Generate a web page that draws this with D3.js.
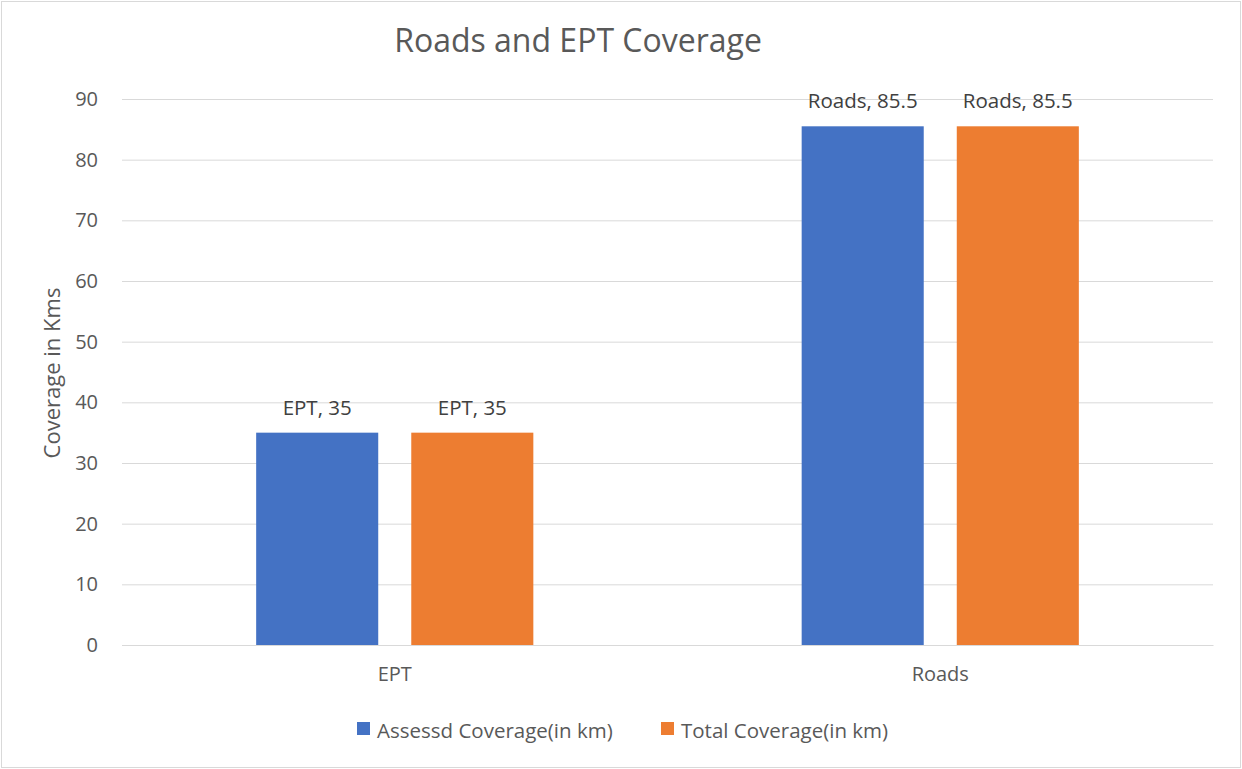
<!DOCTYPE html>
<html>
<head>
<meta charset="utf-8">
<script src="https://cdn.jsdelivr.net/npm/d3@7"></script>
<style>
  body { margin: 0; background: #fff; }
  svg { display: block; font-family: "Open Sans", "Noto Sans", sans-serif; }
</style>
</head>
<body>
<svg id="chart"></svg>
<script>
const categories = ["EPT", "Roads"];
const seriesNames = ["Assessd Coverage(in km)", "Total Coverage(in km)"];
const assessed = [35, 85.5];
const total = [35, 85.5];
const yTicks = [0, 10, 20, 30, 40, 50, 60, 70, 80, 90];
const colors = ["#4472c4", "#ed7d31"];

const width = 1242;
const height = 769;
const plotLeft = 122, plotRight = 1213, plotTop = 99, plotBottom = 645;
const font = '"Open Sans", "Noto Sans", sans-serif';

let svg = d3.select("#chart")
    .attr("width", width)
    .attr("height", height);

// рамка
svg.append("rect")
    .attr("x", 1.5).attr("y", 1.5)
    .attr("width", width - 3).attr("height", height - 3)
    .attr("fill", "#fff")
    .attr("stroke", "#d9d9d9");

let scaleX = d3.scaleBand()
    .domain(categories)
    .range([plotLeft, plotRight]);

let scaleY = d3.scaleLinear()
    .domain([0, 90])
    .range([plotBottom, plotTop]);

let inner = d3.scaleBand()
    .domain(seriesNames)
    .range([0, scaleX.bandwidth()])
    .paddingInner(0.213)
    .paddingOuter(0.865);

// сетка и ось Y
let axisY = d3.axisLeft(scaleY)
    .tickValues(yTicks)
    .tickSize(-(plotRight - plotLeft))
    .tickPadding(24);

let gy = svg.append("g")
    .attr("transform", `translate(${plotLeft}, 0)`)
    .call(axisY)
    .attr("font-family", font);
gy.select(".domain").remove();
gy.selectAll("line").attr("stroke", "#d9d9d9");
gy.selectAll("text")
    .attr("fill", "#595959")
    .style("font-size", "20px");

// ось X
let axisX = d3.axisBottom(scaleX).tickSize(0).tickPadding(22);
let gx = svg.append("g")
    .attr("transform", `translate(0, ${plotBottom})`)
    .call(axisX)
    .attr("font-family", font);
gx.select(".domain").attr("stroke", "#d9d9d9");
gx.selectAll("text")
    .attr("fill", "#595959")
    .style("font-size", "20px");

// столбцы
const series = [assessed, total];
series.forEach((values, si) => {
    let g = svg.append("g");
    g.selectAll("rect")
        .data(categories)
        .enter()
        .append("rect")
        .attr("x", d => scaleX(d) + inner(seriesNames[si]))
        .attr("y", (d, i) => scaleY(values[i]))
        .attr("width", inner.bandwidth())
        .attr("height", (d, i) => plotBottom - scaleY(values[i]))
        .attr("fill", colors[si]);

    g.selectAll("text")
        .data(categories)
        .enter()
        .append("text")
        .attr("x", d => scaleX(d) + inner(seriesNames[si]) + inner.bandwidth() / 2)
        .attr("y", (d, i) => scaleY(values[i]) - 18)
        .attr("text-anchor", "middle")
        .attr("fill", "#404040")
        .style("font-size", "20.5px")
        .text((d, i) => `${d}, ${values[i]}`);
});

// заголовок
svg.append("text")
    .attr("x", 578).attr("y", 52)
    .attr("text-anchor", "middle")
    .attr("fill", "#595959")
    .style("font-size", "32px")
    .text("Roads and EPT Coverage");

// подпись оси Y
svg.append("text")
    .attr("transform", `translate(60, ${(plotTop + plotBottom) / 2 + 1}) rotate(-90)`)
    .attr("text-anchor", "middle")
    .attr("fill", "#595959")
    .style("font-size", "22px")
    .text("Coverage in Kms");

// легенда
const legendX = [357, 661];
let lg = svg.append("g");
seriesNames.forEach((name, i) => {
    lg.append("rect")
        .attr("x", legendX[i]).attr("y", 722)
        .attr("width", 13).attr("height", 13)
        .attr("fill", colors[i]);
    lg.append("text")
        .attr("x", legendX[i] + 20).attr("y", 738)
        .attr("fill", "#595959")
        .style("font-size", "20.5px")
        .text(name);
});
</script>
</body>
</html>
